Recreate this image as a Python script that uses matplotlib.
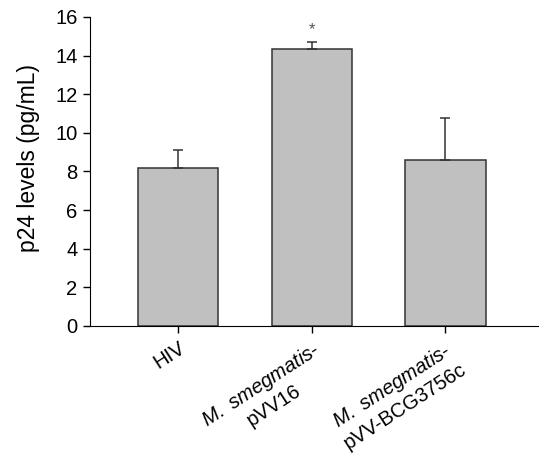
import matplotlib

matplotlib.use("Agg")
import matplotlib.pyplot as plt

plt.rcParams["font.family"] = ["Liberation Sans", "DejaVu Sans"]
plt.rcParams["mathtext.fontset"] = "custom"
plt.rcParams["mathtext.it"] = "Liberation Sans:italic"
plt.rcParams["mathtext.rm"] = "Liberation Sans"

groups = ["HIV", "$\\mathit{M.\\ smegmatis}$-\npVV16",
          "$\\mathit{M.\\ smegmatis}$-\npVV-BCG3756c"]
means = [8.2, 14.36, 8.61]
errors = [0.9, 0.36, 2.14]
stars = ["", "*", ""]
yticks = [0, 2, 4, 6, 8, 10, 12, 14, 16]

fig = plt.figure(figsize=(5.39, 4.59), dpi=100)
ax = fig.add_axes([0.167, 0.29, 0.833, 0.673])

x = list(range(len(groups)))
ax.bar(x, means, width=0.6, color="#c0c0c0", edgecolor="#333333", linewidth=1.1)
ax.errorbar(x, means, yerr=[[0] * len(means), errors], fmt="none",
            ecolor="#333333", elinewidth=1.1, capsize=3.5, capthick=1.1)
for xi, m, e, s in zip(x, means, errors, stars):
    if s:
        ax.text(xi, m + e + 0.25, s, ha="center", va="bottom",
                fontsize=12, color="#555555")

ax.set_xlim(-0.66, 2.7)
ax.set_ylim(0, 16)
ax.set_yticks(yticks)
ax.set_xticks(x)
ax.set_xticklabels(groups, rotation=33, ha="right", rotation_mode="anchor",
                   multialignment="center", fontsize=14.5)
ax.tick_params(axis="y", labelsize=14.5)
ax.tick_params(axis="both", direction="out", length=5, width=1, pad=4)
ax.set_ylabel("p24 levels (pg/mL)", fontsize=16.5)
ax.yaxis.set_label_coords(-0.112, 0.545)
ax.spines["top"].set_visible(False)
ax.spines["right"].set_visible(False)

fig.savefig("out.png", dpi=100)
